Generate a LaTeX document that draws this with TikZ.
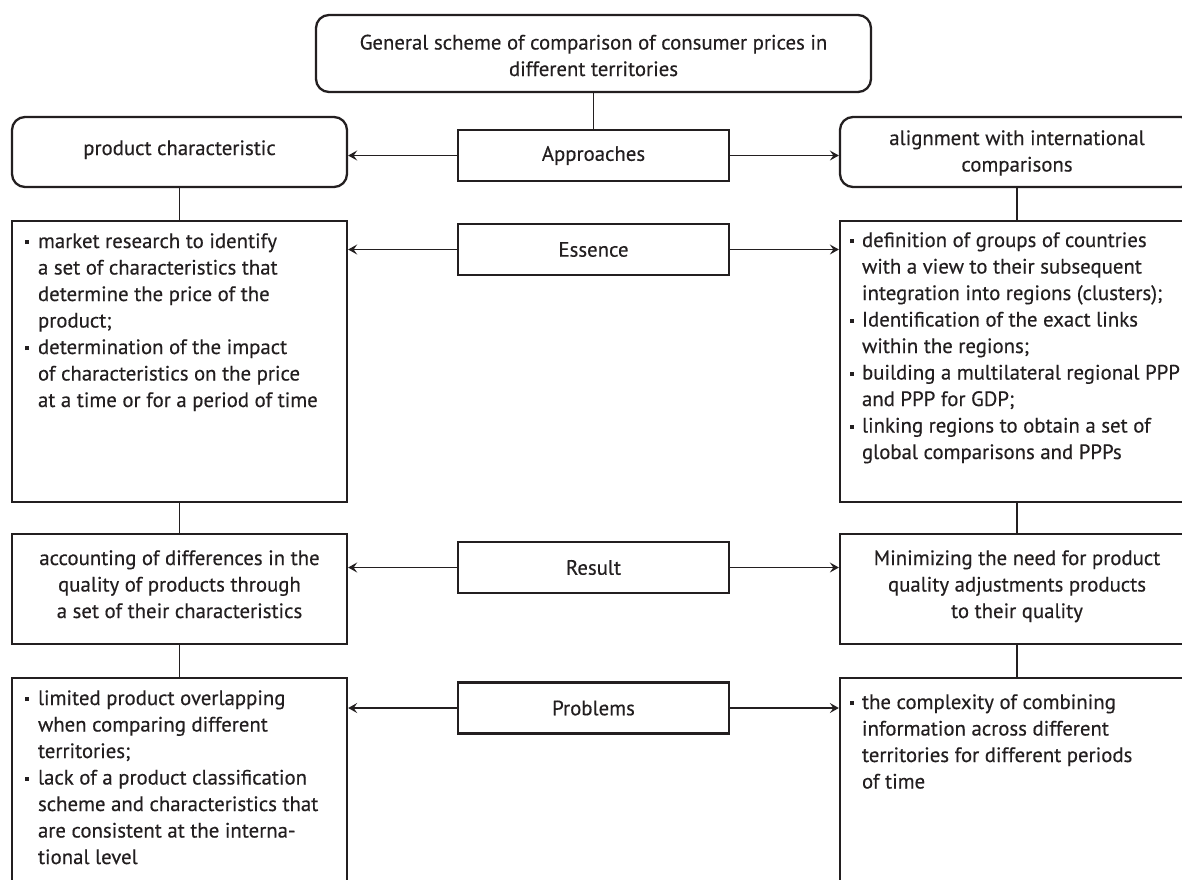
\documentclass[tikz,border=0pt]{standalone}
\usepackage{fontspec}
\setmainfont{PT Sans}[FakeBold=0.35]
\usetikzlibrary{arrows.meta,calc}
\definecolor{ink}{RGB}{35,31,32}
\newcommand{\blt}{\makebox[13pt][l]{\rule[4pt]{4pt}{4pt}}}
\newcommand{\bltr}{\makebox[12pt][l]{\rule[4pt]{4pt}{4pt}}}
\newcommand{\ind}{\hspace*{13pt}}
\newcommand{\indr}{\hspace*{12pt}}
\begin{document}
\begin{tikzpicture}[x=1pt,y=-1pt,
  txt/.style={inner sep=0pt, outer sep=0pt, font=\fontsize{20.8}{26.5}\selectfont, text=ink},
  sbox/.style={draw=ink, line width=2.3pt, inner sep=0pt, fill=none},
  rbox/.style={sbox, rounded corners=13pt},
  mbox/.style={sbox, minimum width=271pt, minimum height=51pt, font=\fontsize{20.8}{26.5}\selectfont, text=ink},
  conn/.style={draw=ink, line width=1.5pt},
  arr/.style={conn, -{Stealth[length=9pt,width=10pt,inset=3.5pt]}}]
\clip (0,0) rectangle (1182,879);
\fill[white] (0,0) rectangle (1182,879);

% title
\node[rbox, minimum width=555pt, minimum height=77pt] (top) at (593.5,53.5) {};
\node[txt, align=center, anchor=north] (toptxt) at (593.5,30.95)
  {\strut General scheme of comparison of consumer prices in\\different territories};

% approach boxes
\node[rbox, minimum width=335pt, minimum height=70pt] (ltop) at (179.5,152) {};
\node[txt, anchor=base] (ltoptxt) at (179.5,155) {product characteristic};
\node[rbox, minimum width=354pt, minimum height=70pt] (rtop) at (1017,152) {};
\node[txt, align=center, anchor=north] (rtoptxt) at (1017,126.45)
  {\strut alignment with international\\comparisons};

% middle labels
\node[mbox] (app) at (593.5,155.5) {Approaches};
\node[mbox] (ess) at (593.5,249.5) {Essence};
\node[mbox] (res) at (593.5,567.5) {Result};
\node[mbox] (pro) at (593.5,708) {Problems};

% essence
\node[sbox, minimum width=335pt, minimum height=281pt] (less) at (179.5,361.5) {};
\node[txt, align=left, anchor=north west] (lesstxt) at (25,229.45)
  {\strut\blt market research to identify\\
   \ind a set of characteristics that\\
   \ind determine the price of the\\
   \ind product;\\
   \blt determination of the impact\\
   \ind of characteristics on the price\\
   \ind at a time or for a period of time};
\node[sbox, minimum width=354pt, minimum height=281pt] (ress) at (1017,361.5) {};
\node[txt, align=left, anchor=north west] (resstxt) at (850,228.45)
  {\strut\bltr definition of groups of countries\\
   \indr with a view to their subsequent\\
   \indr integration into regions (clusters);\\
   \bltr Identification of the exact links\\
   \indr within the regions;\\
   \bltr building a multilateral regional PPP\\
   \indr and PPP for GDP;\\
   \bltr linking regions to obtain a set of\\
   \indr global comparisons and PPPs};

% result
\node[sbox, minimum width=335pt, minimum height=110pt] (lres) at (179.5,589) {};
\node[txt, align=center, anchor=north] (lrestxt) at (179.5,546.45)
  {\strut accounting of differences in the\\quality of products through\\a set of their characteristics};
\node[sbox, minimum width=354pt, minimum height=110pt] (rres) at (1017,589) {};
\node[txt, align=center, anchor=north] (rrestxt) at (1017,546.45)
  {\strut Minimizing the need for product\\quality adjustments products\\to their quality};

% problems
\node[sbox, minimum width=335pt, minimum height=222pt] (lpro) at (179.5,789) {};
\node[txt, align=left, anchor=north west] (lprotxt) at (25,686.45)
  {\strut\blt limited product overlapping\\
   \ind when comparing different\\
   \ind territories;\\
   \blt lack of a product classification\\
   \ind scheme and characteristics that\\
   \ind are consistent at the interna-\\
   \ind tional level};
\node[sbox, minimum width=354pt, minimum height=222pt] (rpro) at (1017,789) {};
\node[txt, align=left, anchor=north west] (rprotxt) at (850,690.45)
  {\strut\bltr the complexity of combining\\
   \indr information across different\\
   \indr territories for different periods\\
   \indr of time};

% vertical connectors
\draw[conn] (top.south) -- (app.north);
\draw[conn] (ltop.south) -- (less.north);
\draw[conn] (less.south) -- (lres.north);
\draw[conn] (lres.south) -- (lpro.north);
\draw[conn] (rtop.south) -- (ress.north);
\draw[conn] (ress.south) -- (rres.north);
\draw[conn] (rres.south) -- (rpro.north);

% arrows
\draw[arr] (app.west) -- (app.west -| ltop.east);
\draw[arr] (app.east) -- (app.east -| rtop.west);
\draw[arr] (ess.west) -- (ess.west -| less.east);
\draw[arr] (ess.east) -- (ess.east -| ress.west);
\draw[arr] (res.west) -- (res.west -| lres.east);
\draw[arr] (res.east) -- (res.east -| rres.west);
\draw[arr] (pro.west) -- (pro.west -| lpro.east);
\draw[arr] (pro.east) -- (pro.east -| rpro.west);
\end{tikzpicture}
\end{document}
